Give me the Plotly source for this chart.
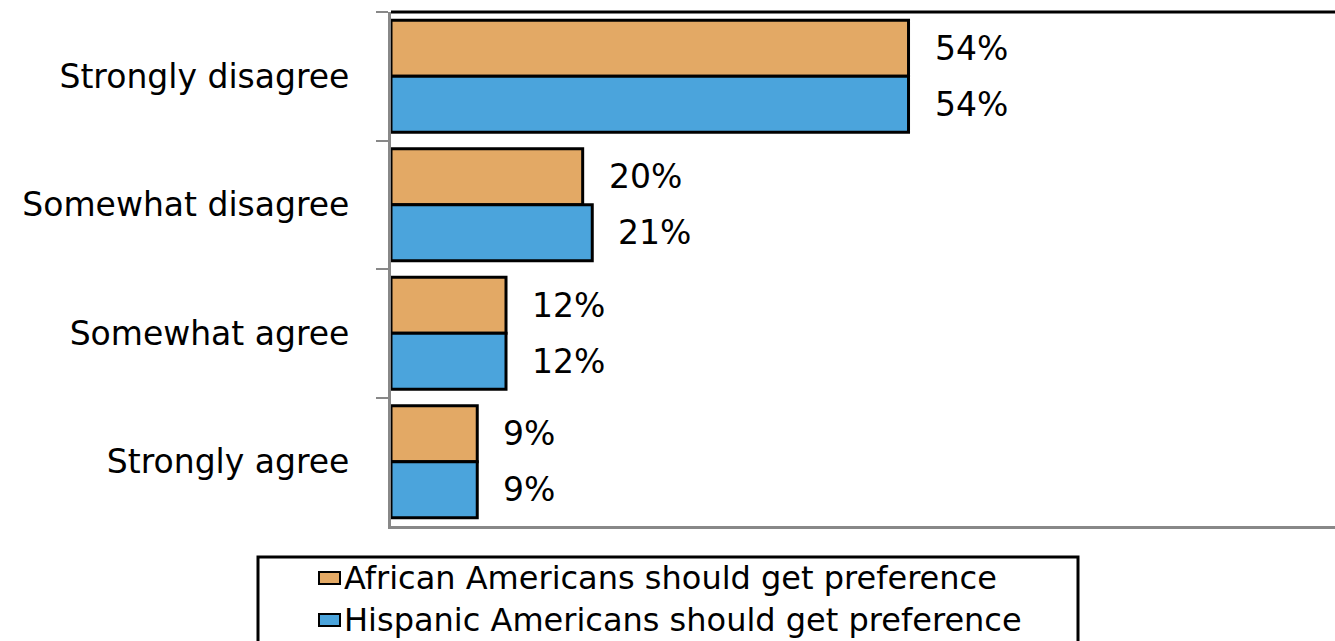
import plotly.graph_objects as go

# Survey responses (percent)
categories = ["Strongly disagree", "Somewhat disagree", "Somewhat agree", "Strongly agree"]
series_names = ["African Americans should get preference",
                "Hispanic Americans should get preference"]
african = [54, 20, 12, 9]
hispanic = [54, 21, 12, 9]
series_values = [african, hispanic]
series_colors = ["#E3A965", "#4BA4DC"]

W, H = 1335, 641
M_L, M_R, M_T, M_B = 391, 0, 12, 115
FONT = "DejaVu Sans"
FS = 33

plot_w = W - M_L - M_R
plot_h = H - M_T - M_B


def px_x(px):
    return (px - M_L) / plot_w


def px_y(py):
    return (H - M_B - py) / plot_h


fig = go.Figure()
for name, vals, col in zip(series_names, series_values, series_colors):
    fig.add_trace(go.Bar(
        y=categories, x=vals, name=name, orientation="h",
        marker=dict(color=col, line=dict(color="black", width=3)),
        showlegend=False,
    ))

# Value labels just past the end of each bar
annotations = []
for i, vals in enumerate(series_values):
    shift = 28 if i == 0 else -28
    for cat, v in zip(categories, vals):
        annotations.append(dict(
            x=v, y=cat, xref="x", yref="y", text=f"{v}%", showarrow=False,
            xanchor="left", yanchor="middle", xshift=24, yshift=shift,
            font=dict(family=FONT, size=FS, color="black"),
        ))

# Legend box drawn below the chart
shapes = [
    dict(type="line", xref="paper", yref="paper", x0=0, x1=1, y0=1, y1=1,
         line=dict(color="black", width=3), layer="above"),
    dict(type="rect", xref="paper", yref="paper",
         x0=px_x(258), x1=px_x(1078), y0=px_y(557), y1=px_y(680),
         line=dict(color="black", width=3), fillcolor="rgba(0,0,0,0)"),
]
row_centers = [578, 620]
for name, col, cy in zip(series_names, series_colors, row_centers):
    shapes.append(dict(type="rect", xref="paper", yref="paper",
                       x0=px_x(319), x1=px_x(340), y0=px_y(cy - 6), y1=px_y(cy + 6),
                       line=dict(color="black", width=2), fillcolor=col))
    annotations.append(dict(
        x=px_x(342), y=px_y(cy), xref="paper", yref="paper", text=name,
        showarrow=False, xanchor="left", yanchor="middle",
        font=dict(family=FONT, size=32, color="black"),
    ))

fig.update_layout(
    width=W, height=H,
    margin=dict(l=M_L, r=M_R, t=M_T, b=M_B, pad=0),
    paper_bgcolor="white", plot_bgcolor="white",
    barmode="group", bargap=0.13, bargroupgap=0,
    font=dict(family=FONT, size=FS, color="black"),
    annotations=annotations, shapes=shapes,
)
fig.update_xaxes(range=[0, 98.5], showgrid=False, zeroline=False,
                 showticklabels=False, ticks="",
                 showline=True, linecolor="#888888", linewidth=3)
fig.update_yaxes(autorange="reversed", showgrid=False, zeroline=False,
                 showline=True, linecolor="#888888", linewidth=3,
                 ticks="outside", tickson="boundaries", ticklen=12,
                 tickwidth=2, tickcolor="#888888", ticklabelstandoff=32,
                 tickfont=dict(family=FONT, size=FS, color="black"))

fig.write_html("out.html")
